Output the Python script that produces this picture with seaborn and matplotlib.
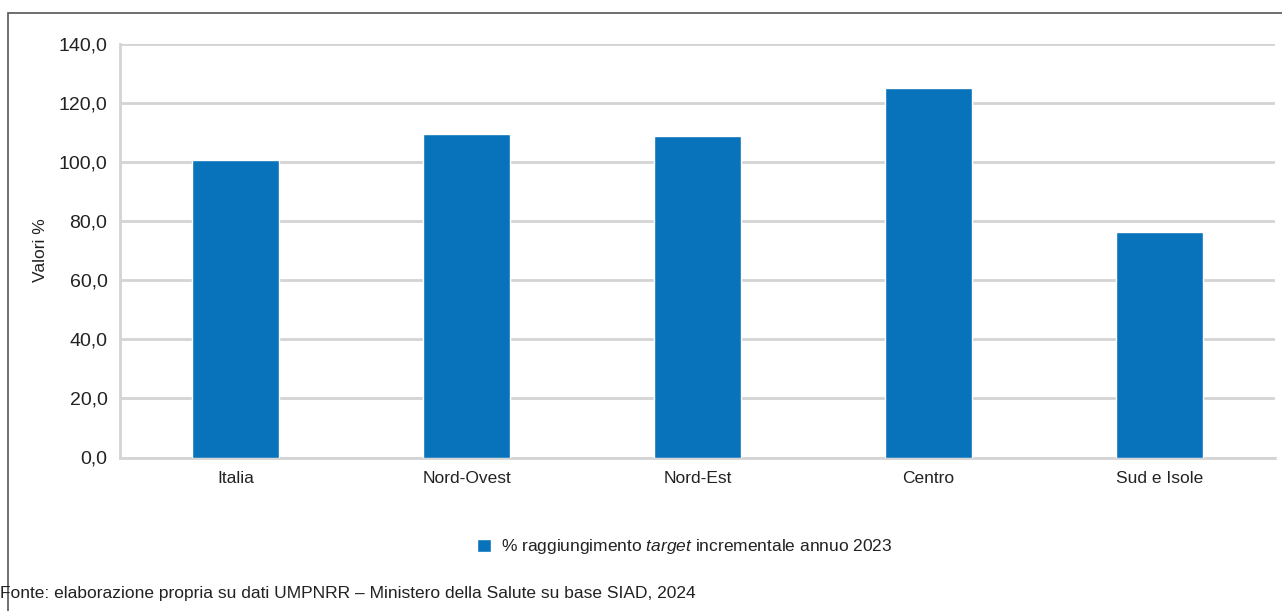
import matplotlib
matplotlib.use("Agg")
import matplotlib.pyplot as plt
from matplotlib.patches import Rectangle
from matplotlib.ticker import FuncFormatter
import seaborn as sns
import pandas as pd

# -----------------------------
# DATA
# -----------------------------
regions = ["Italia", "Nord-Ovest", "Nord-Est", "Centro", "Sud e Isole"]
values = [100.6, 109.3, 108.7, 124.8, 76.4]
series_label = r"% raggiungimento $\it{target}$ incrementale annuo 2023"
source = "Fonte: elaborazione propria su dati UMPNRR – Ministero della Salute su base SIAD, 2024"

BLUE = "#0873BA"
GRID = "#d4d4d4"
TXT = "#222222"
FONT = ["Liberation Sans", "DejaVu Sans"]

# -----------------------------
# STYLE
# -----------------------------
sns.set_style("white")
plt.rcParams["font.family"] = FONT
plt.rcParams["mathtext.fontset"] = "custom"
plt.rcParams["mathtext.rm"] = "Liberation Sans"
plt.rcParams["mathtext.it"] = "Liberation Sans:italic"

df = pd.DataFrame({"region": regions, "value": values})

fig = plt.figure(figsize=(12.82, 6.11), dpi=100)
ax = fig.add_axes([120 / 1282, 1 - 457.5 / 611, 1155 / 1282, 414 / 611])

sns.barplot(data=df, x="region", y="value", color=BLUE, width=0.377,
            saturation=1, ax=ax, label=series_label, zorder=3)

ax.set_ylim(0, 140)
ax.set_yticks(range(0, 141, 20))
ax.yaxis.set_major_formatter(FuncFormatter(lambda v, p: f"{v:.1f}".replace(".", ",")))
ax.grid(axis="y", color=GRID, linewidth=2, zorder=0)
ax.set_axisbelow(True)

for s in ["top", "right"]:
    ax.spines[s].set_visible(False)
for s in ["left", "bottom"]:
    ax.spines[s].set_color(GRID)
    ax.spines[s].set_linewidth(2)

ax.tick_params(axis="y", length=5, width=2, color=GRID, labelsize=14, labelcolor=TXT, pad=4)
ax.tick_params(axis="x", length=0, labelsize=12.5, labelcolor=TXT, pad=10)
ax.set_xlabel("")
ax.set_ylabel("Valori %", fontsize=12.5, color=TXT, labelpad=8)

leg = ax.legend(loc="center", bbox_to_anchor=(685 / 1282, 1 - 547 / 611),
                bbox_transform=fig.transFigure, frameon=False, fontsize=12.5,
                handlelength=0.8, handleheight=0.8, handletextpad=0.6)
for t in leg.get_texts():
    t.set_color(TXT)

fig.text(0, 1 - 598 / 611, source, fontsize=12.5, color=TXT, va="baseline", ha="left")

# outer frame
fig.patches.append(Rectangle((8 / 1282, -0.05), 1.2, 1 - 13 / 611 + 0.05,
                             transform=fig.transFigure, fill=False,
                             edgecolor="#555555", linewidth=1.2, zorder=0))

fig.savefig("out.png", dpi=100)
